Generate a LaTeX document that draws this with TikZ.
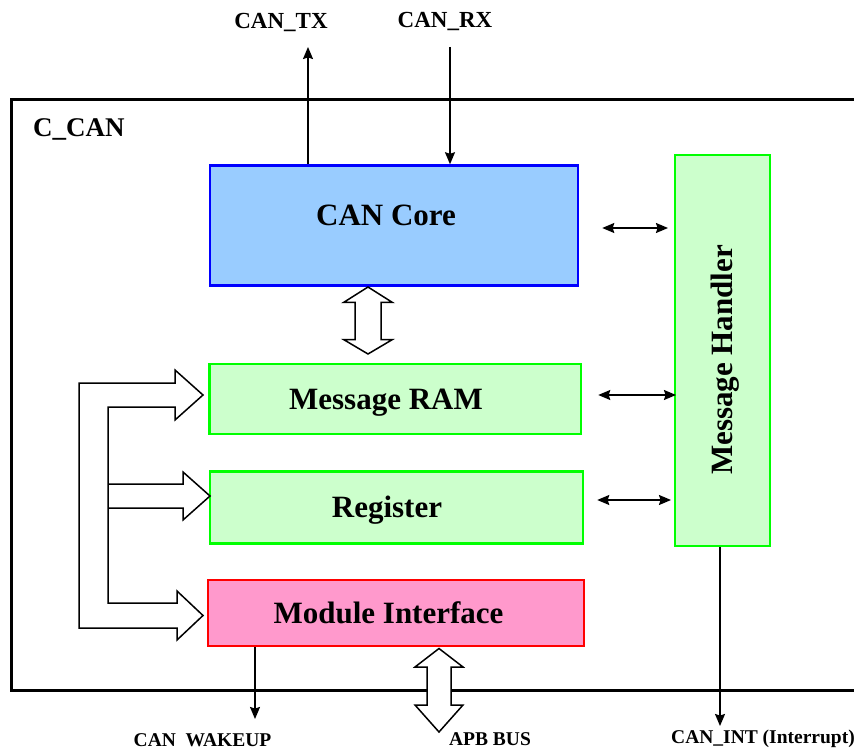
\documentclass[tikz,border=0pt]{standalone}
\usepackage{fontspec}
\setmainfont{Liberation Serif}
\usetikzlibrary{arrows.meta, positioning, calc}

\definecolor{coreblue}{RGB}{153,204,255}
\definecolor{ramgreen}{RGB}{204,255,204}
\definecolor{modpink}{RGB}{255,153,204}

\begin{document}
\begin{tikzpicture}[x=1pt, y=-1pt,
    fsz/.style={font=\fontsize{#1}{#1}\selectfont\bfseries},
    block/.style={draw, line width=2.5pt, inner sep=0pt},
    blocktext/.style={fsz=31, inner sep=0pt, text height=20pt, text depth=0pt},
    sig/.style={line width=1.5pt, -{Stealth[length=12pt, width=10pt, inset=1.5pt]}},
    sigboth/.style={line width=1.5pt, {Stealth[length=12pt, width=10pt, inset=1.5pt]}-{Stealth[length=12pt, width=10pt, inset=1.5pt]}},
    bus/.style={draw, line width=1.5pt, fill=white}]
    \useasboundingbox (0,0) rectangle (854,751);

    % C_CAN frame (right side runs off the page)
    \draw[line width=3pt] (860,100) -- (11,100) -- (11,690) -- (860,690);
    \node[fsz=27, anchor=base west, inner sep=0pt] (ccanLabel) at (33,137) {C\_CAN};

    % blocks
    \node[block, fill=coreblue, draw=blue, minimum width=368pt, minimum height=120pt] (core) at (394,225.5) {};
    \node[block, fill=ramgreen, draw=green, minimum width=371.5pt, minimum height=70pt] (ram) at (395.25,399) {};
    \node[block, fill=ramgreen, draw=green, minimum width=373pt, minimum height=71.6pt] (reg) at (396.5,507.5) {};
    \node[block, fill=modpink, draw=red, minimum width=376pt, minimum height=66pt] (mod) at (396,613) {};
    \node[block, fill=ramgreen, draw=green, line width=2pt, minimum width=95pt, minimum height=391pt] (mh) at (722.5,350.5) {};

    \node[blocktext] (coreText) at (386,216) {CAN Core};
    \node[blocktext] (ramText) at (386,399) {Message RAM};
    \node[blocktext] (regText) at (387,507.5) {Register};
    \node[blocktext] (modText) at (388.5,613) {Module Interface};
    \node[blocktext, rotate=90] (mhText) at (722.5,360) {Message Handler};

    % pins
    \node[fsz=23, anchor=base] (txLabel) at (281,28.3) {CAN\_TX};
    \node[fsz=23, anchor=base] (rxLabel) at (445,28) {CAN\_RX};
    \node[fsz=19.5, anchor=base] (wakeLabel) at (202.5,746.5) {CAN\hspace{.5em}WAKEUP};
    \node[fsz=19.5, anchor=base] (apbLabel) at (490,745.5) {APB BUS};
    \node[fsz=19.5, anchor=base] (intLabel) at (763,743.5) {CAN\_INT (Interrupt)};

    \coordinate (txEnd) at (308,47);
    \coordinate (rxStart) at (450,47);
    \coordinate (wakeEnd) at (255,719);
    \coordinate (intEnd) at (720,726);

    \draw[sig] (core.north -| txEnd) -- (txEnd);
    \draw[sig] (rxStart) -- (rxStart |- core.north);
    \draw[sig] (mod.south -| wakeEnd) -- (wakeEnd);
    \draw[sig] (mh.south -| intEnd) -- (intEnd);

    % to the message handler
    \draw[sigboth] ($(core.east)+(23,2.5)$) -- ($(core.east -| mh.west)+(-6,2.5)$);
    \draw[sigboth] ($(ram.east)+(16,-4)$) -- ($(ram.east -| mh.west)+(2,-4)$);
    \draw[sigboth] ($(reg.east)+(13,-7.5)$) -- ($(reg.east -| mh.west)+(-3,-7.5)$);

    % buses
    \path[bus] (368,287) -- (392.5,302.5) -- (381,302.5) -- (381,339.5) -- (392.5,339.5) -- (368,354)
        -- (343.5,339.5) -- (355,339.5) -- (355,302.5) -- (343.5,302.5) -- cycle;
    \path[bus] (439,648.5) -- (463,667) -- (451,667) -- (451,705) -- (463,705) -- (439,732)
        -- (415,705) -- (427,705) -- (427,667) -- (415,667) -- cycle;

    \draw[line width=1.5pt] (108,407) -- (175,407) -- (175,420) -- (203,395) -- (175,370) -- (175,383)
        -- (79,383) -- (79,628) -- (177,628) -- (177,640) -- (203,615.5) -- (177,591) -- (177,603) -- (108,603) -- cycle;
    \draw[line width=1.5pt] (108,484) -- (183,484) -- (183,472) -- (210,496) -- (183,520) -- (183,508) -- (108,508);
\end{tikzpicture}
\end{document}
